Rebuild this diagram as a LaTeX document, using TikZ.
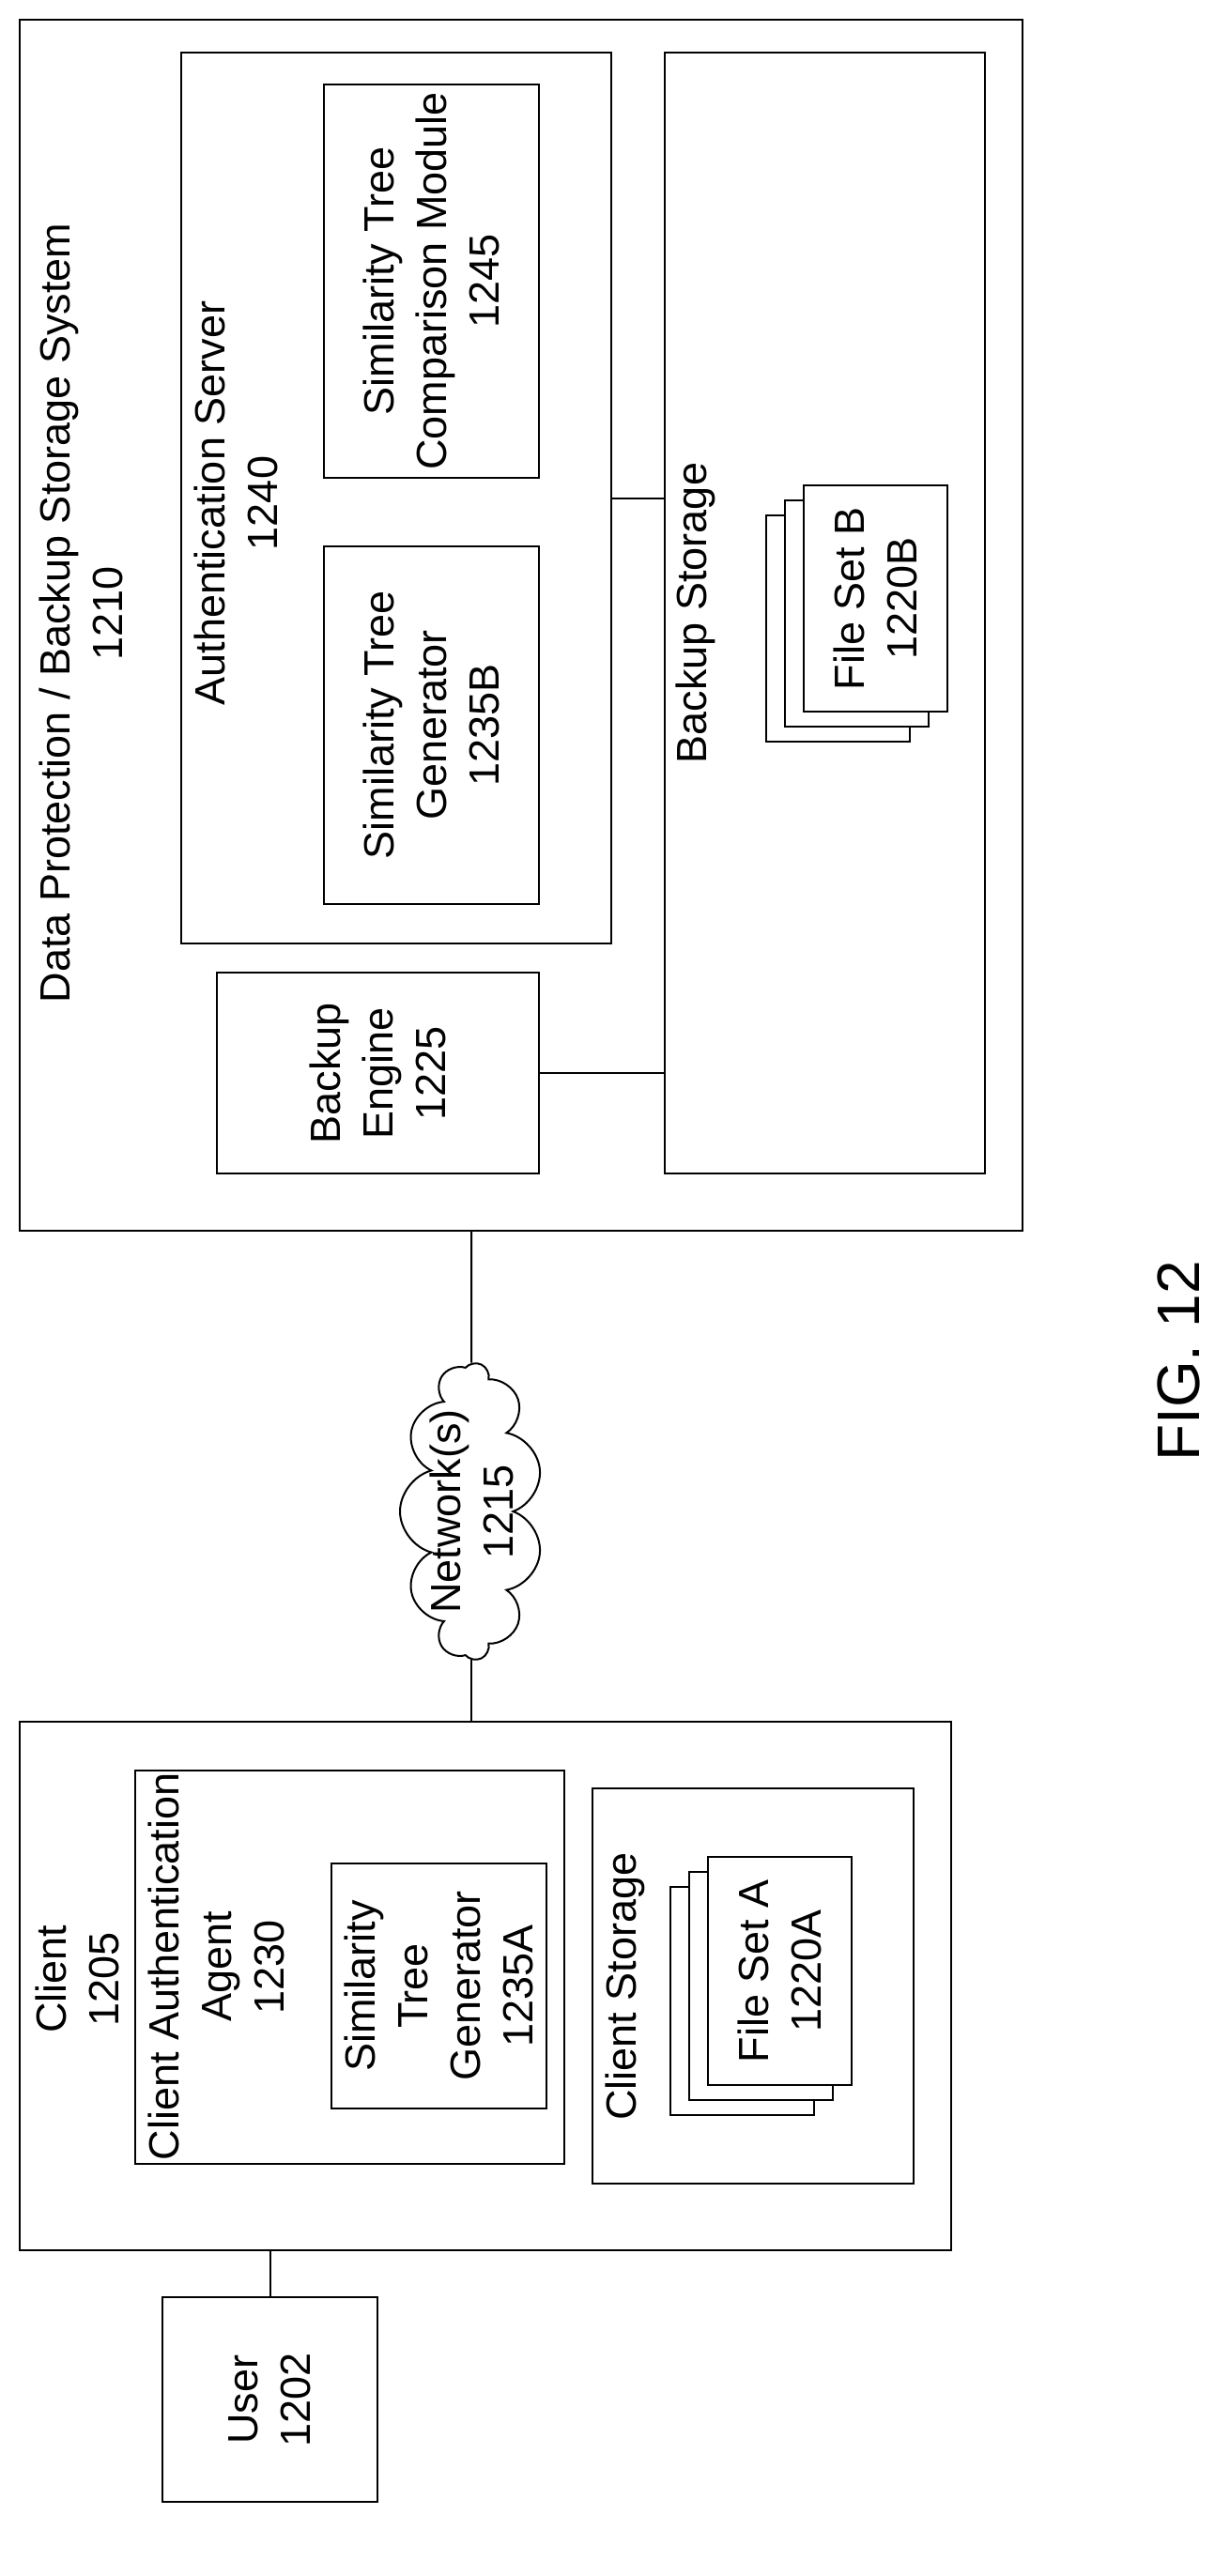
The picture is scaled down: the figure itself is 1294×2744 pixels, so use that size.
\documentclass[tikz,border=0pt]{standalone}
\usepackage{fontspec}
\setmainfont{Liberation Sans}
\usetikzlibrary{shapes.symbols}
\begin{document}
\begin{tikzpicture}[x=0.5pt,y=-0.5pt,line width=1pt,
  box/.style={draw,fill=white,inner sep=0pt},
  lbl/.style={rotate=90,align=center,inner sep=0pt,font=\fontsize{22.5}{28}\selectfont}]
\useasboundingbox (0,0) rectangle (1294,2744);
\newcommand\bx[5]{\node[box,minimum width={(#4)*0.5pt},minimum height={(#5)*0.5pt}] (#1) at (#2,#3) {};}
% data protection system
\bx{dp}{555}{666}{1068}{1290}
\bx{auth}{422}{530.5}{458}{949}
\bx{stc}{459.5}{299.5}{229}{419}
\bx{stgb}{459.5}{772.5}{229}{381}
\bx{bs}{878.5}{653}{341}{1194}
\bx{eng}{402.5}{1143}{343}{214}
\bx{fb3}{892.5}{669.5}{153}{241}
\bx{fb2}{912.5}{653.5}{153}{241}
\bx{fb1}{932.5}{637.5}{153}{241}
\node[lbl] (tdp) at (86,653) {Data Protection / Backup Storage System\\1210};
\node[lbl] (tauth) at (251,536) {Authentication Server\\1240};
\node[lbl] (tstc) at (459.5,299.5) {Similarity Tree\\Comparison Module\\1245};
\node[lbl] (tstgb) at (459.5,772.5) {Similarity Tree\\Generator\\1235B};
\node[lbl] (tbs) at (741,653) {Backup Storage};
\node[lbl] (tfb) at (932.5,637.5) {File Set B\\1220B};
\node[lbl] (teng) at (402.5,1143) {Backup\\Engine\\1225};
\draw (auth.east) -- (auth.east -| bs.west);
\draw (eng.east) -- (eng.east -| bs.west);
% cloud
\node[cloud,draw,fill=white,cloud puffs=11,aspect=2.1,rotate=90,inner sep=0pt,
  minimum width=158pt,minimum height=76pt] (cloud) at (502,1610) {};
\node[lbl] (tcloud) at (502,1610) {Network(s)\\1215};
% client
\bx{client}{517}{2115.5}{992}{563}
\bx{caa}{372.5}{2095.5}{457}{419}
\bx{stga}{467.5}{2115.5}{229}{261}
\bx{cs}{802}{2115.5}{342}{421}
\bx{fa3}{790.5}{2131.5}{153}{243}
\bx{fa2}{810.5}{2115.5}{153}{243}
\bx{fa1}{830.5}{2099.5}{153}{243}
\node[lbl] (tclient) at (82,2108) {Client\\1205};
\node[lbl] (tcaa) at (230,2095) {Client Authentication\\Agent\\1230};
\node[lbl] (tstga) at (467.5,2115.5) {Similarity\\Tree\\Generator\\1235A};
\node[lbl] (tcs) at (666,2116) {Client Storage};
\node[lbl] (tfa) at (830.5,2099.5) {File Set A\\1220A};
\bx{user}{287.5}{2556}{229}{218}
\node[lbl] (tuser) at (287.5,2556) {User\\1202};
\draw (cloud) -- (cloud |- dp.south);
\draw (cloud) -- (cloud |- client.north);
\draw (user.north) -- (user.north |- client.south);
\node[rotate=90,inner sep=0pt,font=\fontsize{32}{38}\selectfont] (fig) at (1255,1450) {FIG. 12};
\end{tikzpicture}
\end{document}
